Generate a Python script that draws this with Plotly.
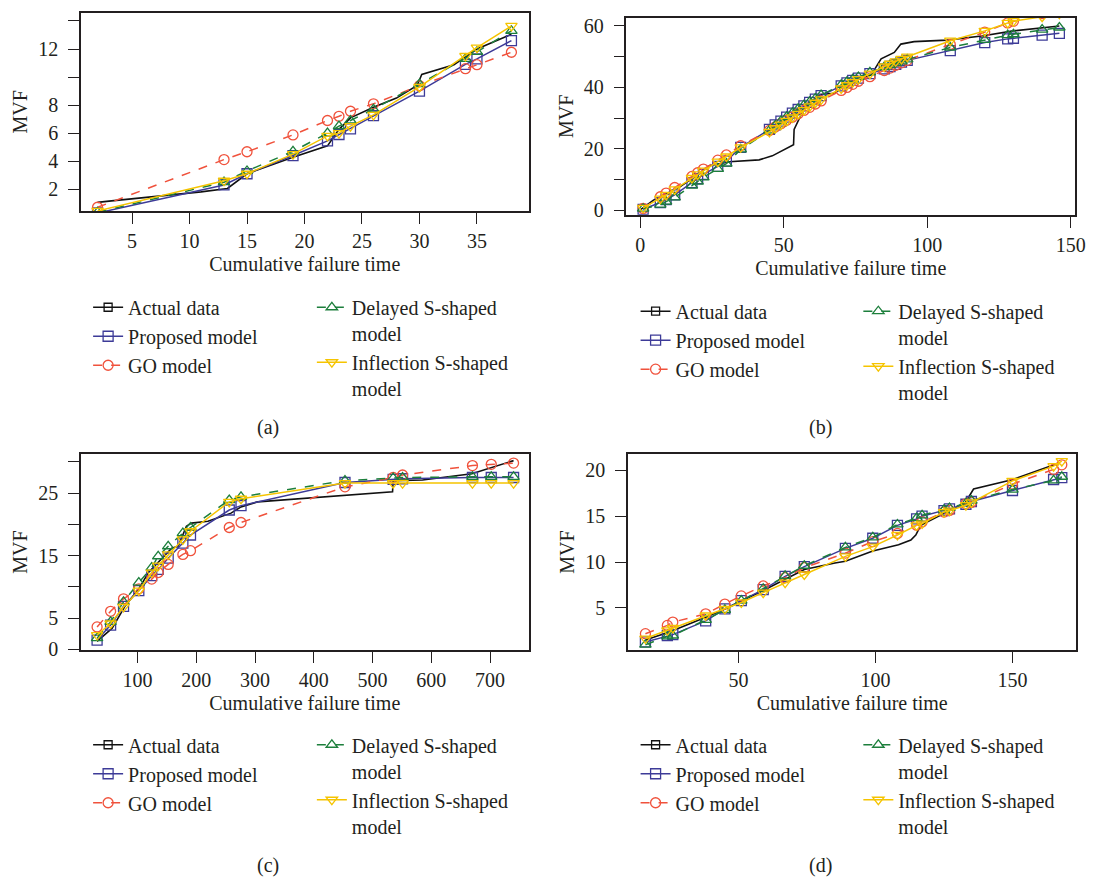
import plotly.graph_objects as go

W, H = 1102, 886
FONT = "Liberation Serif"
TXT = "#231f20"

NAMES = ["Actual data", "Proposed model", "GO model",
         "Delayed S-shaped<br>model", "Inflection S-shaped<br>model"]
COLORS = ["#111111", "#3d3b98", "#f0523c", "#1d7f3c", "#f5c400"]
DASHES = ["solid", "solid", "dash", "dash", "solid"]
SYMBOLS = ["square-open", "square-open", "circle-open", "triangle-up-open", "triangle-down-open"]

# ---------------- panel (a) ----------------
a_t = [2, 13, 15, 19, 22, 23, 24, 26, 30, 34, 35, 38]
a_actual_t = [2, 3, 11, 13.3, 15, 19, 22, 23, 24, 26, 28, 29.8, 30.2, 33, 35, 38]
a_actual = [1.06, 1.15, 1.81, 2.05, 3.1, 4.27, 5.09, 6.27, 7.09, 7.84, 8.5, 9.4, 10.18, 10.88, 12.0, 13.06]
a_proposed = [0.3, 2.3, 3.1, 4.4, 5.45, 5.9, 6.3, 7.25, 9.0, 10.9, 11.3, 12.6]
a_go = [0.71, 4.11, 4.67, 5.87, 6.9, 7.2, 7.56, 8.09, 9.38, 10.6, 10.88, 11.77]
a_delayed = [0.35, 2.5, 3.3, 4.7, 6.0, 6.5, 6.9, 7.7, 9.5, 11.3, 11.8, 13.3]
a_inflection = [0.45, 2.6, 3.1, 4.5, 5.8, 6.0, 6.5, 7.3, 9.3, 11.5, 12.1, 13.65]

# ---------------- panel (b) ----------------
b_t = [1, 7, 9, 12, 18, 20, 22, 27, 30, 35, 45, 47, 49, 51, 53, 55, 57, 59, 61, 63,
       70, 72, 74, 76, 80, 85, 87, 89, 91, 93, 108, 120, 128, 130, 140, 146]
b_actual_t = [0, 4.6, 13.8, 20, 24.1, 31, 41.4, 46, 53.4, 53.6, 57, 61, 63.2, 67.8, 72.4,
              78.2, 80.4, 83.9, 88.5, 90.8, 95.4, 106.9, 119.6, 129.9, 136.8, 146]
b_actual = [0.1, 3.3, 7.6, 11.5, 14.5, 15.8, 16.4, 17.7, 21.3, 26.3, 33.0, 36.5, 37.8, 38.1, 41.8,
            43.4, 44.0, 49.3, 51.4, 54.1, 54.9, 55.4, 56.8, 58.4, 59.1, 60.0]
b_proposed = [0.3, 2.5, 3.5, 5.0, 9.0, 10.3, 11.7, 14.3, 16.0, 20.5, 26.3, 27.8, 29.0, 30.3, 31.6,
              32.8, 34.0, 35.1, 36.2, 37.3, 40.5, 41.5, 42.3, 43.0, 44.5, 46.0, 46.8, 47.5, 48.2,
              48.8, 52.0, 54.6, 55.8, 56.0, 57.0, 57.6]
b_go = [0.6, 4.4, 5.6, 7.4, 11.0, 12.2, 13.4, 16.3, 18.0, 21.0, 26.0, 27.1, 28.2, 29.3, 30.3,
        31.4, 32.5, 33.5, 34.6, 35.6, 39.0, 40.0, 41.0, 42.0, 43.5, 45.5, 46.3, 47.2, 48.0,
        48.8, 54.0, 58.0, 61.0, 61.5, 64.0, 66.0]
b_delayed = [0.5, 1.8, 2.8, 4.2, 8.0, 9.3, 10.7, 13.5, 15.2, 19.8, 26.0, 27.6, 29.0, 30.4, 31.7,
             33.0, 34.2, 35.3, 36.4, 37.5, 40.8, 41.8, 42.6, 43.4, 44.9, 46.6, 47.3, 47.9, 48.5,
             49.1, 53.0, 55.5, 57.0, 57.3, 58.8, 59.5]
b_inflection = [0.8, 3.8, 5.0, 6.8, 10.5, 11.7, 12.9, 15.8, 17.5, 20.5, 25.5, 26.7, 27.9, 29.1, 30.2,
                31.4, 32.6, 33.8, 35.0, 36.1, 39.7, 40.7, 41.7, 42.7, 44.5, 46.8, 47.7, 48.5, 49.3,
                50.0, 55.2, 58.4, 61.0, 61.6, 63.0, 64.0]

# ---------------- panel (c) ----------------
c_t = [31, 54, 76, 102, 124, 135, 152, 177, 190, 256, 276, 453, 535, 551, 670, 702, 740]
c_actual_t = [31, 56.7, 79, 102, 118.5, 135.4, 158, 169, 183, 191.6, 219.7, 259, 276, 304,
              416, 534, 535, 585, 669, 740]
c_actual = [1.3, 3.4, 7.0, 9.7, 12.3, 13.9, 16.2, 16.5, 19.7, 20.2, 20.5, 21.8, 22.8, 23.6,
            24.4, 25.2, 27.0, 27.1, 28.1, 30.2]
c_proposed = [1.5, 3.9, 6.9, 9.4, 11.8, 12.8, 14.6, 17.0, 18.3, 22.3, 23.0, 26.7, 27.2, 27.3, 27.5, 27.5, 27.5]
c_go = [3.6, 6.1, 8.1, 9.7, 11.25, 12.3, 13.6, 15.2, 15.8, 19.5, 20.3, 26.0, 27.5, 27.9, 29.4, 29.6, 29.8]
c_delayed = [1.8, 4.4, 7.6, 10.7, 13.1, 14.9, 16.5, 18.6, 19.5, 23.9, 24.4, 27.0, 27.4, 27.5, 27.6, 27.6, 27.6]
c_inflection = [2.3, 4.15, 6.8, 9.4, 12.3, 13.4, 15.2, 17.6, 18.9, 23.6, 24.1, 26.6, 26.6, 26.6, 26.6, 26.6, 26.6]

# ---------------- panel (d) ----------------
d_t = [16, 24, 26, 38, 45, 51, 59, 67, 74, 89, 99, 108, 115, 117, 125, 127, 133, 135, 150, 165, 168]
d_actual_t = [16, 25, 38, 45, 59, 74, 85.2, 89, 99, 108.4, 112.9, 114.7, 116.5, 126, 132.8,
              135.8, 150.2, 167]
d_actual = [1.5, 2.4, 4.0, 4.9, 6.9, 9.2, 9.9, 10.1, 11.2, 11.9, 12.4, 12.95, 14.0, 15.45, 16.5,
            17.96, 19.0, 20.8]
d_proposed = [1.3, 2.0, 2.1, 3.6, 4.9, 5.8, 7.0, 8.45, 9.5, 11.5, 12.6, 14.0, 14.7, 15.0, 15.6,
              15.8, 16.3, 16.6, 17.8, 19.0, 19.2]
d_go = [2.2, 3.1, 3.46, 4.36, 5.43, 6.32, 7.4, 8.3, 9.4, 10.98, 12.23, 13.12, 14.02, 14.38, 15.45,
        15.63, 16.35, 16.5, 18.5, 20.1, 20.6]
d_delayed = [1.0, 1.9, 2.0, 3.7, 4.8, 5.8, 7.1, 8.5, 9.6, 11.6, 12.7, 14.1, 14.8, 15.1, 15.7,
             15.9, 16.4, 16.7, 17.9, 18.9, 19.3]
d_inflection = [1.67, 2.57, 2.82, 4.18, 4.89, 5.6, 6.68, 7.76, 8.65, 10.62, 11.69, 12.95, 14.0,
                14.2, 15.45, 15.6, 16.2, 16.5, 18.85, 20.46, 21.0]

# tick settings
a_xticks = [5, 10, 15, 20, 25, 30, 35]
a_yticks = [2, 4, 6, 8, 10, 12, 14]
a_ylabels = ["2", "4", "6", "8", "", "12", ""]
b_xticks = [0, 50, 100, 150]
b_yticks = [0, 10, 20, 30, 40, 50, 60]
b_ylabels = ["0", "", "20", "", "40", "", "60"]
c_xticks = [100, 200, 300, 400, 500, 600, 700]
c_yticks = [0, 5, 10, 15, 20, 25, 30]
c_ylabels = ["0", "5", "", "15", "", "25", ""]
d_xticks = [50, 100, 150]
d_yticks = [5, 10, 15, 20]
d_ylabels = ["5", "10", "15", "20"]

panels = [
    dict(tag="(a)", t=a_t, at=a_actual_t, act=a_actual,
         models=[a_proposed, a_go, a_delayed, a_inflection],
         box=(81.7, 534, 10, 211), xr=[0.55, 39.5], yr=[0.45, 14.58],
         xt=a_xticks, yt=a_yticks, yl=a_ylabels,
         leg=(89, 315, 289), lab=(271, 431)),
    dict(tag="(b)", t=b_t, at=b_actual_t, act=b_actual,
         models=[b_proposed, b_go, b_delayed, b_inflection],
         box=(632.7, 1086, 15, 215), xr=[-4.83, 151.5], yr=[-1.5, 62.67],
         xt=b_xticks, yt=b_yticks, yl=b_ylabels,
         leg=(642, 867, 293), lab=(829, 431)),
    dict(tag="(c)", t=c_t, at=c_actual_t, act=c_actual,
         models=[c_proposed, c_go, c_delayed, c_inflection],
         box=(81.7, 534, 457.7, 656.7), xr=[3.4, 765.7], yr=[-0.1, 31.26],
         xt=c_xticks, yt=c_yticks, yl=c_ylabels,
         leg=(89, 315, 733), lab=(271, 875)),
    dict(tag="(d)", t=d_t, at=d_actual_t, act=d_actual,
         models=[d_proposed, d_go, d_delayed, d_inflection],
         box=(634.3, 1087.3, 457.7, 656.7), xr=[9.63, 173.35], yr=[0.415, 21.78],
         xt=d_xticks, yt=d_yticks, yl=d_ylabels,
         leg=(642, 867, 733), lab=(829, 875)),
]

fig = go.Figure()
layout = dict(
    width=W, height=H, margin=dict(l=0, r=0, t=0, b=0),
    paper_bgcolor="white", plot_bgcolor="white",
    font=dict(family=FONT, size=20, color=TXT),
    annotations=[],
)

axis_common = dict(
    showline=True, mirror=True, linecolor="#231f20", linewidth=1.5,
    ticks="outside", ticklen=11, tickwidth=1.3, tickcolor="#231f20",
    showgrid=False, zeroline=False,
    tickfont=dict(family=FONT, size=20, color=TXT),
)

for i, p in enumerate(panels):
    n = i + 1
    xa = "x" if n == 1 else f"x{n}"
    ya = "y" if n == 1 else f"y{n}"
    leg1 = "legend" if n == 1 else f"legend{2 * n - 1}"
    leg2 = f"legend{2 * n}"

    # actual data path
    fig.add_trace(go.Scatter(
        x=p["at"], y=p["act"], mode="lines", xaxis=xa, yaxis=ya,
        line=dict(color=COLORS[0], width=1.6), showlegend=False, hoverinfo="skip"))
    # legend entry for actual data
    fig.add_trace(go.Scatter(
        x=[None], y=[None], mode="lines+markers", name=NAMES[0], xaxis=xa, yaxis=ya,
        line=dict(color=COLORS[0], width=1.6),
        marker=dict(symbol=SYMBOLS[0], size=8, color=COLORS[0], line=dict(width=1.3, color=COLORS[0])),
        legend=leg1))
    for k, ys in enumerate(p["models"]):
        j = k + 1
        fig.add_trace(go.Scatter(
            x=p["t"], y=ys, mode="lines+markers", name=NAMES[j], xaxis=xa, yaxis=ya,
            line=dict(color=COLORS[j], width=1.5, dash=DASHES[j]),
            marker=dict(symbol=SYMBOLS[j], size=10, color=COLORS[j],
                        line=dict(width=1.3, color=COLORS[j])),
            legend=leg1 if j < 3 else leg2))

    x0, x1, yt, yb = p["box"]
    xkey = "xaxis" if n == 1 else f"xaxis{n}"
    ykey = "yaxis" if n == 1 else f"yaxis{n}"
    layout[xkey] = dict(axis_common, domain=[x0 / W, x1 / W], range=p["xr"],
                        tickvals=p["xt"], anchor=ya,
                        title=dict(text="Cumulative failure time", standoff=6,
                                   font=dict(family=FONT, size=20, color=TXT)))
    layout[ykey] = dict(axis_common, domain=[1 - yb / H, 1 - yt / H], range=p["yr"],
                        tickvals=p["yt"], ticktext=p["yl"], anchor=xa, ticklabelstandoff=6,
                        title=dict(text="MVF", standoff=5,
                                   font=dict(family=FONT, size=20, color=TXT)))
    lx1, lx2, ly = p["leg"]
    legstyle = dict(font=dict(family=FONT, size=20, color=TXT), bgcolor="rgba(0,0,0,0)",
                    borderwidth=0, xanchor="left", yanchor="top", valign="top",
                    tracegroupgap=0, itemwidth=30, orientation="v")
    layout[leg1] = dict(legstyle, x=lx1 / W, y=1 - ly / H)
    layout[leg2] = dict(legstyle, x=lx2 / W, y=1 - ly / H)
    lxp, lyp = p["lab"]
    layout["annotations"].append(dict(
        text=p["tag"], x=lxp / W, y=1 - lyp / H, xref="paper", yref="paper",
        xanchor="center", yanchor="middle", showarrow=False,
        font=dict(family=FONT, size=20, color=TXT)))

fig.update_layout(**layout)
fig.write_html("out.html")
